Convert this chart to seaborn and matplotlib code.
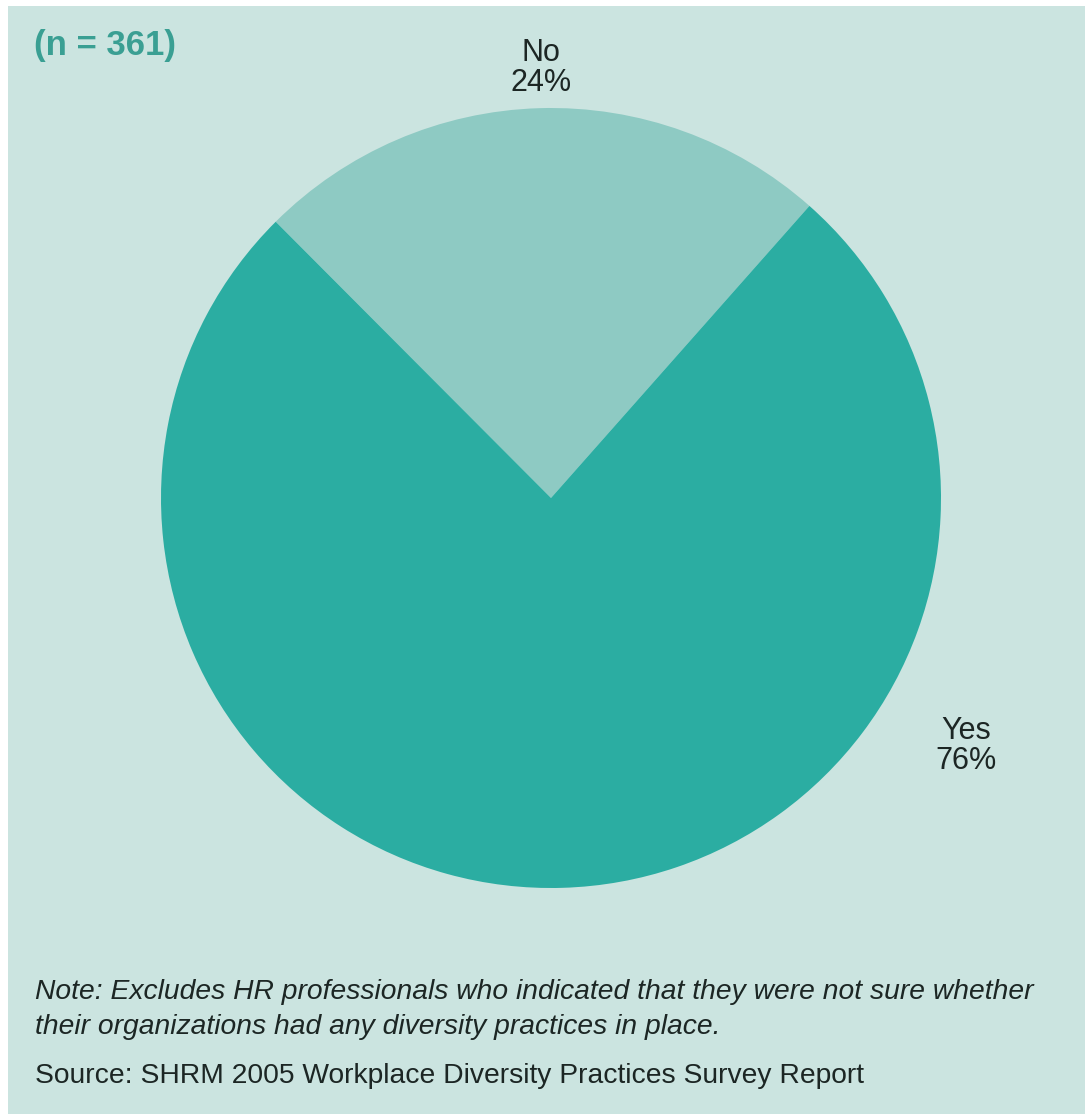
import matplotlib
matplotlib.use("Agg")
import matplotlib.pyplot as plt
import seaborn as sns
from matplotlib.patches import Rectangle

# Survey responses: does the organization have diversity practices in place?
categories = ["No", "Yes"]
shares = [24, 76]
sample_note = "(n = 361)"
note_lines = [
    "Note: Excludes HR professionals who indicated that they were not sure whether",
    "their organizations had any diversity practices in place.",
]
source_line = "Source: SHRM 2005 Workplace Diversity Practices Survey Report"

sns.set_theme(style="white")
plt.rcParams["font.family"] = ["Liberation Sans", "DejaVu Sans"]

bg = "#cbe4e0"
slice_colors = ["#8ecac3", "#2bada2"]
text_dark = "#1c2624"

W, H = 1085, 1114
fig = plt.figure(figsize=(W / 100, H / 100), dpi=100)
fig.patch.set_facecolor("white")

# tinted panel behind everything
fig.add_artist(Rectangle((8 / W, 0), 1 - 8 / W, 1 - 6 / H, transform=fig.transFigure,
                         facecolor=bg, edgecolor="none", zorder=0))

cx, cy, r = 551, 498, 390
ax = fig.add_axes([(cx - r) / W, 1 - (cy + r) / H, 2 * r / W, 2 * r / H])
ax.set_facecolor("none")
ax.pie(shares, colors=slice_colors, startangle=48.5, counterclock=True,
       wedgeprops=dict(linewidth=0), radius=1)
ax.set_xlim(-1, 1)
ax.set_ylim(-1, 1)
ax.set_aspect("equal")
ax.axis("off")

def px(x, y):
    return x / W, 1 - y / H

lbl = dict(ha="center", va="center", fontsize=22, color=text_dark, linespacing=1.02)
fig.text(*px(541, 68), f"{categories[0]}\n{shares[0]}%", **lbl)
fig.text(*px(966, 746), f"{categories[1]}\n{shares[1]}%", **lbl)

fig.text(*px(34, 45), sample_note, ha="left", va="center", fontsize=25,
         color="#3a9f93", fontweight="bold")

fig.text(*px(35, 992), note_lines[0], ha="left", va="center", fontsize=20.3,
         style="italic", color=text_dark)
fig.text(*px(35, 1027), note_lines[1], ha="left", va="center", fontsize=20.3,
         style="italic", color=text_dark)
fig.text(*px(35, 1076), source_line, ha="left", va="center", fontsize=20.3,
         color=text_dark)

fig.savefig("out.png", dpi=100, facecolor=fig.get_facecolor())
